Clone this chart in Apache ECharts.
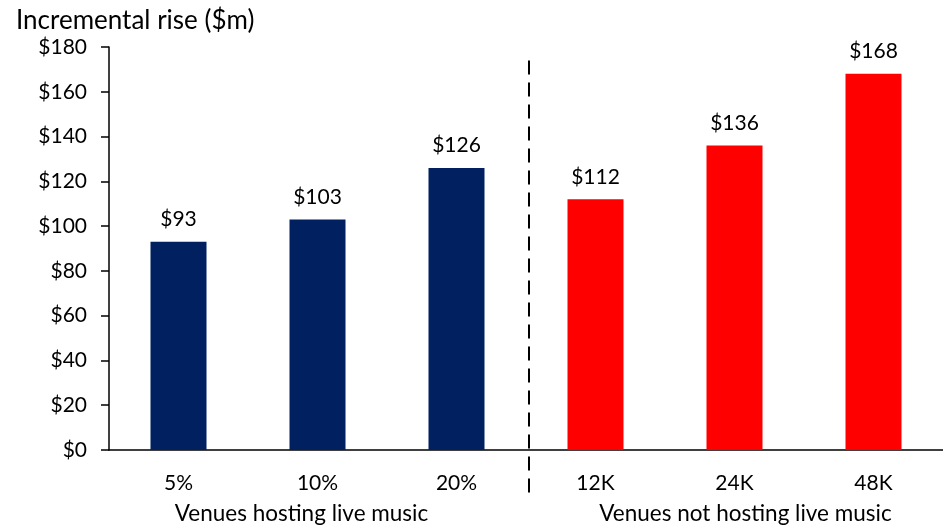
<!DOCTYPE html>
<html>
<head>
<meta charset="utf-8">
<script src="https://cdn.jsdelivr.net/npm/echarts@6/dist/echarts.min.js"></script>
<style>
html,body{margin:0;padding:0;background:#fff;}
#chart{width:943px;height:529px;}
</style>
</head>
<body>
<div id="chart"></div>
<script>
// Incremental rise by scenario
const categories = ['5%', '10%', '20%', '12K', '24K', '48K'];
const values = [93, 103, 126, 112, 136, 168];
const groupNames = ['Venues hosting live music', 'Venues not hosting live music'];
const groupColors = ['#002060', '#FF0000'];
const yTicks = { min: 0, max: 180, interval: 20 };

const FONT = 'Lato, "Open Sans", sans-serif';
const TXT = 21;
const chart = echarts.init(document.getElementById('chart'));

chart.setOption({
  animation: false,
  grid: { left: 109, right: 0, top: 47, bottom: 79 },
  title: {
    text: 'Incremental rise ($m)',
    left: 11, top: 3,
    textStyle: { fontFamily: FONT, fontSize: 26, fontWeight: 'normal', color: '#000' }
  },
  xAxis: {
    type: 'category',
    data: categories,
    axisLine: { lineStyle: { color: '#000', width: 1.5 } },
    axisTick: { show: false },
    axisLabel: { fontFamily: FONT, fontSize: TXT, color: '#000', margin: 23 }
  },
  yAxis: {
    type: 'value',
    min: yTicks.min, max: yTicks.max, interval: yTicks.interval,
    splitLine: { show: false },
    axisLine: { show: true, lineStyle: { color: '#000', width: 1.5 } },
    axisTick: { show: true, length: 8, lineStyle: { color: '#000', width: 1.5 } },
    axisLabel: {
      fontFamily: FONT, fontSize: TXT, color: '#000', margin: 22,
      formatter: v => '$' + v
    }
  },
  series: [{
    type: 'bar',
    barWidth: 56,
    data: values.map((v, i) => ({
      value: v,
      itemStyle: { color: groupColors[i < 3 ? 0 : 1] }
    })),
    label: {
      show: true, position: 'top', distance: 12,
      fontFamily: FONT, fontSize: TXT, color: '#000',
      formatter: p => '$' + p.value
    }
  }]
});

// Divider between the two groups and the group captions under the axis
function drawExtras() {
  const x2 = chart.convertToPixel({ xAxisIndex: 0 }, 2);
  const x3 = chart.convertToPixel({ xAxisIndex: 0 }, 3);
  const x0 = chart.convertToPixel({ xAxisIndex: 0 }, 0);
  const x5 = chart.convertToPixel({ xAxisIndex: 0 }, 5);
  const divX = (x2 + x3) / 2 + 3;
  const yTop = chart.convertToPixel({ yAxisIndex: 0 }, 174);
  const y0 = chart.convertToPixel({ yAxisIndex: 0 }, 0);
  chart.setOption({
    graphic: [
      {
        type: 'line',
        shape: { x1: divX, y1: yTop, x2: divX, y2: y0 + 44 },
        style: { stroke: '#000', lineWidth: 2, lineDash: [14, 8] },
        silent: true
      },
      {
        type: 'text', x: (x0 + x2) / 2 - 16, y: y0 + 64,
        style: { text: groupNames[0], fontFamily: FONT, fontSize: 22.5, fill: '#000',
                 textAlign: 'center', textVerticalAlign: 'middle' }
      },
      {
        type: 'text', x: (x3 + x5) / 2 + 11, y: y0 + 64,
        style: { text: groupNames[1], fontFamily: FONT, fontSize: 22.5, fill: '#000',
                 textAlign: 'center', textVerticalAlign: 'middle' }
      }
    ]
  });
}
drawExtras();
</script>
</body>
</html>
